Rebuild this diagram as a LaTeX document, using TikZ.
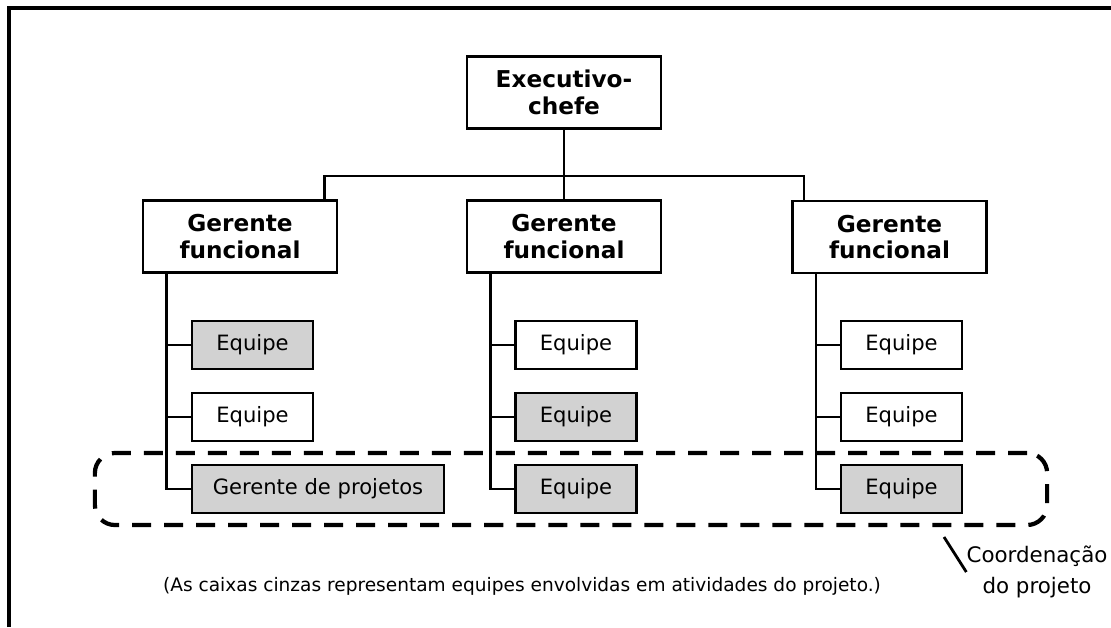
\documentclass[tikz,border=0pt]{standalone}
\usepackage{fontspec}
\setmainfont{DejaVu Sans}
\begin{document}
\begin{tikzpicture}[x=0.025cm,y=-0.025cm,
  chefe/.style={draw,line width=2pt,minimum width=4.85cm,minimum height=1.8cm,align=center,inner sep=0pt,font=\bfseries\fontsize{16.5}{19}\selectfont},
  equipe/.style={draw,line width=2pt,minimum width=3.025cm,minimum height=1.2cm,inner sep=0pt,font=\fontsize{15}{17}\selectfont},
  cinza/.style={equipe,fill=gray!35},
  ligacao/.style={line width=2pt}]
\useasboundingbox (0,0) rectangle (1111,627);
% the frame, top and left only
\draw [line width=2.2pt] (9,627) -- (9,8) -- (1111,8);
% the top of the chart
\node[chefe] (exec) at (564,92.5) {Executivo-\\chefe};
\node[chefe] (gfA) at (240,236.5) {Gerente\\funcional};
\node[chefe] (gfB) at (564,236.5) {Gerente\\funcional};
\node[chefe] (gfC) at (889.5,237) {Gerente\\funcional};
\coordinate (bus) at (564,176);
\draw [ligacao] (exec.south) -- (gfB.north);
\draw [ligacao] (gfA.north east) ++(-14,0) |- (bus);
\draw [ligacao] (gfC.north west) ++(13,0) |- (bus);
% the teams, grey ones work on the project
\node[cinza] (eA1) at (252.5,345) {Equipe};
\node[equipe] (eA2) at (252.5,417) {Equipe};
\node[cinza,minimum width=6.3cm] (eA3) at (318,489) {Gerente de projetos};
\node[equipe] (eB1) at (576,345) {Equipe};
\node[cinza] (eB2) at (576,417) {Equipe};
\node[cinza] (eB3) at (576,489) {Equipe};
\node[equipe] (eC1) at (901.5,345) {Equipe};
\node[equipe] (eC2) at (901.5,417) {Equipe};
\node[cinza] (eC3) at (901.5,489) {Equipe};
% the lines from each manager down to his teams
\foreach \col in {A,B,C} {
  \draw [ligacao] (gf\col.south west) ++(25,0) coordinate (t\col) |- (e\col3.west);
  \draw [ligacao] (e\col1.west) -- (e\col1.west -| t\col);
  \draw [ligacao] (e\col2.west) -- (e\col2.west -| t\col);
}
% project coordination
\node[draw,line width=3pt,dash pattern=on 0.475cm off 0.325cm,rounded corners=0.5cm,
  minimum width=23.8cm,minimum height=1.8cm] (coord) at (571,489) {};
\node[align=center,inner sep=0pt,font=\fontsize{15.2}{22}\selectfont] (coordtxt) at (1037,572) {Coordenação\\do projeto};
\coordinate (lead) at (944,537);
\draw [line width=2pt] (lead) -- (coordtxt.west);
\node[font=\fontsize{13.2}{15}\selectfont] (nota) at (522,586) {(As caixas cinzas representam equipes envolvidas em atividades do projeto.)};
\end{tikzpicture}
\end{document}
